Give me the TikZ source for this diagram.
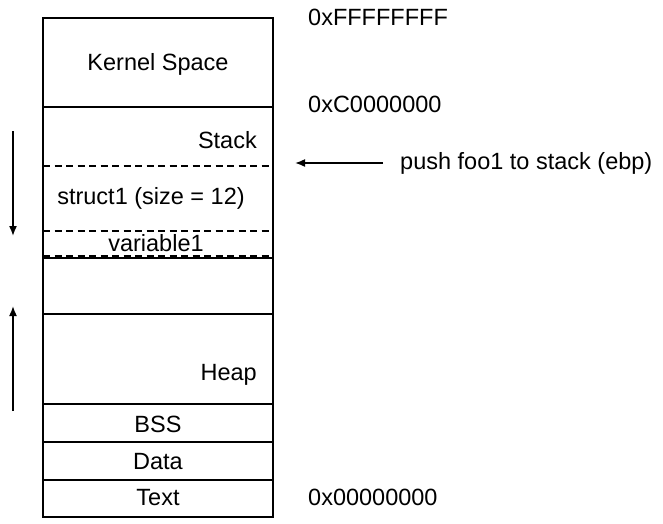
\documentclass[tikz,border=0pt]{standalone}
\usepackage{fontspec}
\setmainfont{Liberation Sans}
\usetikzlibrary{arrows.meta}
\begin{document}
\begin{tikzpicture}[x=1pt,y=-1pt,
  lbl/.style={inner sep=0pt,font=\fontsize{23.5}{26}\selectfont},
  seg/.style={draw,line width=1.9pt},
  dsh/.style={draw,line width=1.8pt,dash pattern=on 7pt off 4.5pt},
  arr/.style={line width=1.6pt,-{Latex[length=10pt,width=8pt]}}]
\useasboundingbox (0,0) rectangle (663,523);
% segments
\draw[seg] (43,18) rectangle (273,517);
\draw[line width=2.8pt] (43,107) -- (273,107);
\draw[seg] (43,258) -- (273,258);
\draw[seg] (43,314) -- (273,314);
\draw[seg] (43,404) -- (273,404);
\draw[seg] (43,442) -- (273,442);
\draw[seg] (43,480) -- (273,480);
\draw[dsh] (43,166) -- (273,166);
\draw[dsh] (43,231) -- (273,231);
\draw[dsh] (43,256) -- (273,256);
% labels
\node[lbl] (kernel) at (158,64) {Kernel Space};
\node[lbl,anchor=east] (stack) at (257,140) {Stack};
\node[lbl] (struct) at (151,198) {struct1 (size = 12)};
\node[lbl] (var) at (156,243) {variable1};
\node[lbl,anchor=east] (heap) at (257,375) {Heap};
\node[lbl] (bss) at (158,424) {BSS};
\node[lbl] (data) at (158,462) {Data};
\node[lbl] (text) at (158,498) {Text};
\node[lbl,anchor=west] (aF) at (308,17) {0xFFFFFFFF};
\node[lbl,anchor=west] (aC) at (308,104) {0xC0000000};
\node[lbl,anchor=west] (a0) at (308,497) {0x00000000};
\node[lbl,anchor=west] (push) at (400,163) {push foo1 to stack (ebp)};
% arrows
\coordinate (pa) at (383,163);
\coordinate (pb) at (295,163);
\draw[arr] (pa) -- (pb);
\coordinate (d1) at (13,131);
\coordinate (d2) at (13,236);
\draw[arr] (d1) -- (d2);
\coordinate (u1) at (13,411);
\coordinate (u2) at (13,306);
\draw[arr] (u1) -- (u2);
\end{tikzpicture}
\end{document}
